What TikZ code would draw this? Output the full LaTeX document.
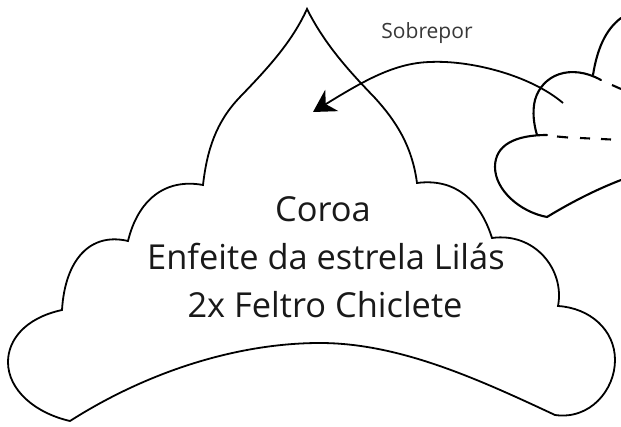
\documentclass[tikz,border=0pt]{standalone}
\usepackage{fontspec}
\setmainfont{Open Sans}
\usetikzlibrary{arrows.meta}
\tikzset{
 outline/.style={line width=1.8pt,black,line join=miter,line cap=round},
 piece/.style={line width=2.1pt,black,line cap=round},
 bigtext/.style={anchor=base,inner sep=0pt,text=black!90,font=\fontsize{34.4}{36}\selectfont},
 smalltext/.style={anchor=base,inner sep=0pt,text=black!78,font=\fontsize{21}{24}\selectfont},
 dashpart/.style={line width=2.1pt,black}
}
\begin{document}
\begin{tikzpicture}[x=1pt,y=-1pt]
\useasboundingbox[fill=white] (0,0) rectangle (621,427);
% crown
\draw[outline] (307,9) .. controls (292,42) and (268,68) .. (240,97)
 .. controls (216,122) and (207,150) .. (203,185)
 .. controls (165,178) and (138,200) .. (128,241)
 .. controls (90,232) and (65,260) .. (62,310)
 .. controls (25,318) and (8,340) .. (8,362)
 .. controls (8,390) and (35,413) .. (70,421)
 .. controls (150,370) and (240,343) .. (320,343)
 .. controls (400,343) and (480,380) .. (555,415)
 .. controls (590,420) and (615,390) .. (615,360)
 .. controls (615,330) and (590,308) .. (558,306)
 .. controls (565,270) and (535,232) .. (492,238)
 .. controls (480,200) and (455,178) .. (417,183)
 .. controls (412,145) and (395,120) .. (375,98)
 .. controls (350,72) and (325,45) .. (307,9) -- cycle;
% right piece
\draw[piece] (621,18) .. controls (605,30) and (597,50) .. (593,75);
\draw[piece] (601,80) .. controls (570,63) and (542,75) .. (535,100) .. controls (532,112) and (534,125) .. (537,135);
\draw[piece] (547,135) .. controls (515,135) and (495,145) .. (495,167) .. controls (495,190) and (520,212) .. (547,217);
\draw[piece] (547,217) .. controls (570,203) and (595,190) .. (621,180);
\draw[dashpart] (612,85) -- (621,89);
\draw[dashpart] (557,136.5) -- (568,137.5);
\draw[dashpart] (580,138) -- (590,138.5);
\draw[dashpart] (601,139) -- (611,139.5);
% arrow
\coordinate (arrowstart) at (563,103);
\coordinate (arrowend) at (313,112);
\draw[line width=1.8pt,-{Stealth[length=22pt,width=25pt,inset=7pt]}] (arrowstart) .. controls (530,75) and (470,60) .. (430,62) .. controls (395,63) and (365,80) .. (arrowend);
% text
\node[smalltext] (sobrepor) at (427,39) {Sobrepor};
\node[bigtext] (l1) at (323,222) {Coroa};
\node[bigtext] (l2) at (326,270) {Enfeite da estrela Lilás};
\node[bigtext] (l3) at (325,318) {2x Feltro Chiclete};
\end{tikzpicture}
\end{document}
